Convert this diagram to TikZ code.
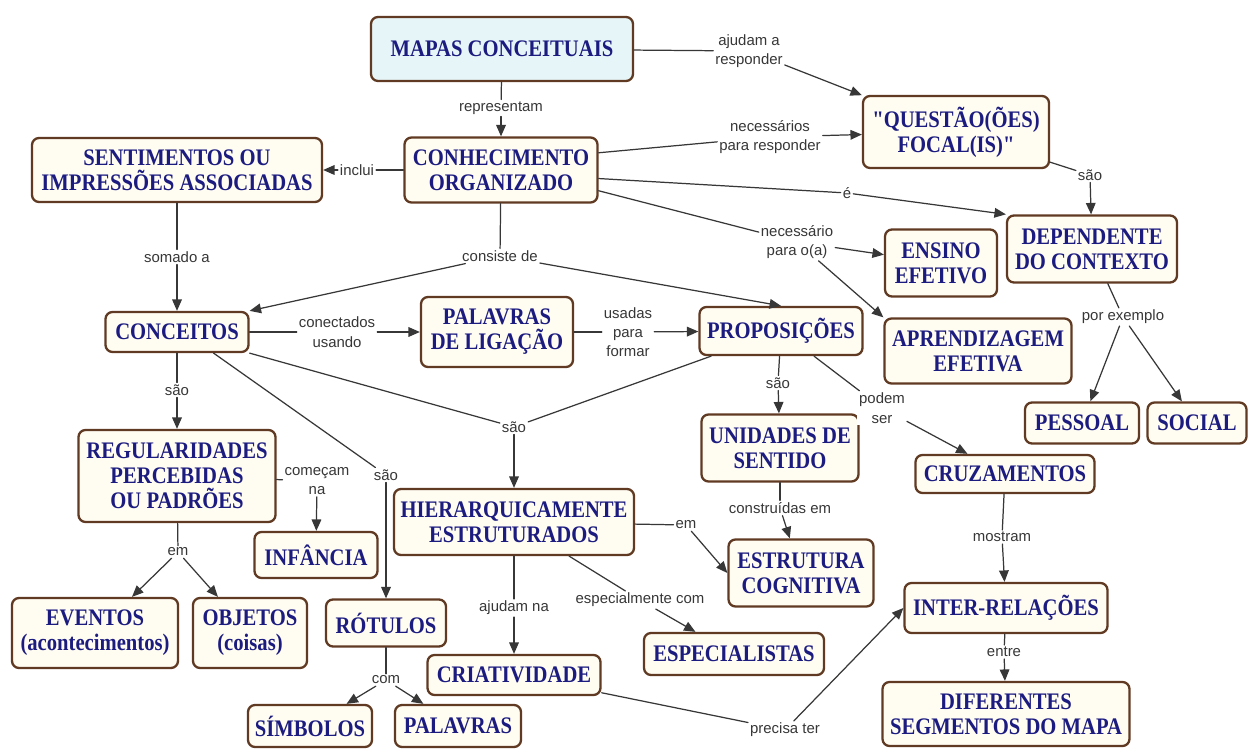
\documentclass[tikz,border=0pt]{standalone}
\usepackage{fontspec}
\setmainfont{Liberation Serif}[Ligatures=TeXOff]
\newfontfamily\boxfont{Liberation Serif}[FakeStretch=0.87,Ligatures=TeXOff]
\newfontfamily\lblfont{Liberation Sans}
\usepackage{tikz}
\usetikzlibrary{arrows.meta}
\definecolor{boxline}{RGB}{96,58,34}
\definecolor{boxfill}{RGB}{255,252,242}
\definecolor{topfill}{RGB}{230,246,248}
\definecolor{boxtext}{RGB}{28,28,128}
\definecolor{linkgray}{RGB}{55,55,55}

\begin{document}
\begin{tikzpicture}[x=0.02cm,y=-0.02cm,line cap=round,line join=round,>={Triangle[length=6.5pt,width=5.5pt]},
    concept/.style={draw=boxline,line width=1.3pt,fill=boxfill,rounded corners=4pt,align=center,inner sep=2pt,text=boxtext,font=\boxfont\bfseries\fontsize{13.5}{14.2}\selectfont},
    sz/.style 2 args={minimum width=#1*0.02cm,minimum height=#2*0.02cm},
    link/.style={fill=white,inner sep=1pt,align=center,text=linkgray,font=\lblfont\fontsize{8.5}{11}\selectfont},
    con/.style={draw=linkgray,line width=0.7pt}]
        \fill[white] (0,0) rectangle (1253,749);
        \useasboundingbox (0,0) rectangle (1253,749);

        % concepts
        \node[concept,sz={262}{64},fill=topfill] (mapas) at (502,49) {MAPAS CONCEITUAIS};
        \node[concept,sz={193}{65}] (conh) at (501,170) {CONHECIMENTO\\ORGANIZADO};
        \node[concept,sz={290}{64}] (sent) at (177,170) {SENTIMENTOS OU\\IMPRESSÕES ASSOCIADAS};
        \node[concept,sz={186}{72}] (quest) at (956,132) {"QUESTÃO(ÕES)\\FOCAL(IS)"};
        \node[concept,sz={170}{67}] (dep) at (1092,249) {DEPENDENTE\\DO CONTEXTO};
        \node[concept,sz={112}{67}] (ens) at (941,263) {ENSINO\\EFETIVO};
        \node[concept,sz={187}{65}] (aprend) at (978,351) {APRENDIZAGEM\\EFETIVA};
        \node[concept,sz={143}{40}] (conc) at (177,332) {CONCEITOS};
        \node[concept,sz={152}{70}] (palig) at (497,332) {PALAVRAS\\DE LIGAÇÃO};
        \node[concept,sz={163}{48}] (prop) at (781,331) {PROPOSIÇÕES};
        \node[concept,sz={197}{92}] (reg) at (177,476) {REGULARIDADES\\PERCEBIDAS\\OU PADRÕES};
        \node[concept,sz={123}{46}] (inf) at (316,555) {INFÂNCIA};
        \node[concept,sz={240}{66}] (hier) at (514,522) {HIERARQUICAMENTE\\ESTRUTURADOS};
        \node[concept,sz={157}{67}] (unid) at (780,448) {UNIDADES DE\\SENTIDO};
        \node[concept,sz={179}{38}] (cruz) at (1005,474) {CRUZAMENTOS};
        \node[concept,sz={114}{41}] (pess) at (1082,423) {PESSOAL};
        \node[concept,sz={99}{41}] (soc) at (1197,423) {SOCIAL};
        \node[concept,sz={166}{70}] (evt) at (95,633) {EVENTOS\\(acontecimentos)};
        \node[concept,sz={114}{70}] (obj) at (250,633) {OBJETOS\\(coisas)};
        \node[concept,sz={120}{47}] (rot) at (386,623) {RÓTULOS};
        \node[concept,sz={124}{42}] (simb) at (310,726) {SÍMBOLOS};
        \node[concept,sz={126}{42}] (pal) at (458,726) {PALAVRAS};
        \node[concept,sz={173}{40}] (criat) at (514,675) {CRIATIVIDADE};
        \node[concept,sz={145}{67}] (estr) at (801,573) {ESTRUTURA\\COGNITIVA};
        \node[concept,sz={180}{42}] (espec) at (734,654) {ESPECIALISTAS};
        \node[concept,sz={203}{50}] (inter) at (1006,608) {INTER-RELAÇÕES};
        \node[concept,sz={247}{64}] (dif) at (1006,714) {DIFERENTES\\SEGMENTOS DO MAPA};

        % linking phrases
        \node[link] (l_ajud) at (749,51) {ajudam a\\responder};
        \node[link] (l_repr) at (501,108) {representam};
        \node[link] (l_incl) at (357,170) {inclui};
        \node[link] (l_nec1) at (770,137) {necessários\\para responder};
        \node[link] (l_e) at (847,193) {é};
        \node[link] (l_nec2) at (797,242) {necessário\\para o(a)};
        \node[link] (l_cons) at (500,256) {consiste de};
        \node[link] (l_soma) at (177,257) {somado a};
        \node[link] (l_sao1) at (1090,175) {são};
        \node[link] (l_ex) at (1123,317) {por exemplo};
        \node[link] (l_con) at (337,332) {conectados\\usando};
        \node[link] (l_usa) at (628,332) {usadas\\para\\formar};
        \node[link] (l_sao2) at (177,390) {são};
        \node[link] (l_sao3) at (386,475) {são};
        \node[link] (l_sao4) at (514,427) {são};
        \node[link] (l_sao5) at (778,383) {são};
        \node[link] (l_pod) at (882,408) {podem\\ser};
        \node[link] (l_com) at (317,481) {começam\\na};
        \node[link] (l_em1) at (178,552) {em};
        \node[link] (l_com2) at (386,680) {com};
        \node[link] (l_em2) at (686,525) {em};
        \node[link] (l_ajna) at (514,608) {ajudam na};
        \node[link] (l_esp) at (640,600) {especialmente com};
        \node[link] (l_constr) at (780,508) {construídas em};
        \node[link] (l_most) at (1002,537) {mostram};
        \node[link] (l_entre) at (1004,652) {entre};
        \node[link] (l_prec) at (785,730) {precisa ter};

        % connectors
        \draw[con] (mapas) -- (l_ajud);
        \draw[con,->] (l_ajud) -- (quest);
        \draw[con] (mapas) -- (l_repr);
        \draw[con,->] (l_repr) -- (conh);
        \draw[con] (conh) -- (l_incl);
        \draw[con,->] (l_incl) -- (sent);
        \draw[con] (conh.10) -- (l_nec1);
        \draw[con,->] (l_nec1) -- (quest);
        \draw[con] (conh.-5) -- (l_e);
        \draw[con,->] (l_e) -- (dep.north west);
        \draw[con] (conh.-12) -- (l_nec2);
        \draw[con,->] (l_nec2) -- (ens);
        \draw[con,->] (l_nec2) -- (aprend.north west);
        \draw[con] (conh) -- (l_cons);
        \draw[con,->] (l_cons) -- (conc.north east);
        \draw[con,->] (l_cons) -- (prop.north);
        \draw[con] (sent) -- (l_soma);
        \draw[con,->] (l_soma) -- (conc);
        \draw[con] (quest) -- (l_sao1);
        \draw[con,->] (l_sao1) -- (dep);
        \draw[con] (dep) -- (l_ex);
        \draw[con,->] (l_ex) -- (pess);
        \draw[con,->] (l_ex) -- (soc);
        \draw[con] (conc) -- (l_con);
        \draw[con,->] (l_con) -- (palig);
        \draw[con] (palig) -- (l_usa);
        \draw[con,->] (l_usa) -- (prop);
        \draw[con] (conc) -- (l_sao2);
        \draw[con,->] (l_sao2) -- (reg);
        \draw[con] (conc.-30) -- (l_sao3);
        \draw[con,->] (l_sao3) -- (rot);
        \draw[con] (conc.south east) -- (l_sao4);
        \draw[con] (prop) -- (l_sao4);
        \draw[con,->] (l_sao4) -- (hier);
        \draw[con] (prop) -- (l_sao5);
        \draw[con,->] (l_sao5) -- (unid);
        \draw[con] (prop) -- (l_pod);
        \draw[con,->] (l_pod) -- (cruz);
        \draw[con] (reg) -- (l_com);
        \draw[con,->] (l_com) -- (inf);
        \draw[con] (reg) -- (l_em1);
        \draw[con,->] (l_em1) -- (evt);
        \draw[con,->] (l_em1) -- (obj);
        \draw[con] (rot) -- (l_com2);
        \draw[con,->] (l_com2) -- (simb);
        \draw[con,->] (l_com2) -- (pal);
        \draw[con] (hier) -- (l_em2);
        \draw[con,->] (l_em2) -- (estr.west);
        \draw[con] (hier) -- (l_ajna);
        \draw[con,->] (l_ajna) -- (criat);
        \draw[con] (hier) -- (l_esp);
        \draw[con,->] (l_esp) -- (espec);
        \draw[con] (unid) -- (l_constr);
        \draw[con,->] (l_constr) -- (estr);
        \draw[con] (cruz) -- (l_most);
        \draw[con,->] (l_most) -- (inter);
        \draw[con] (inter) -- (l_entre);
        \draw[con,->] (l_entre) -- (dif);
        \draw[con] (criat) -- (l_prec);
        \draw[con,->] (l_prec) -- (inter.west);
\end{tikzpicture}
\end{document}
